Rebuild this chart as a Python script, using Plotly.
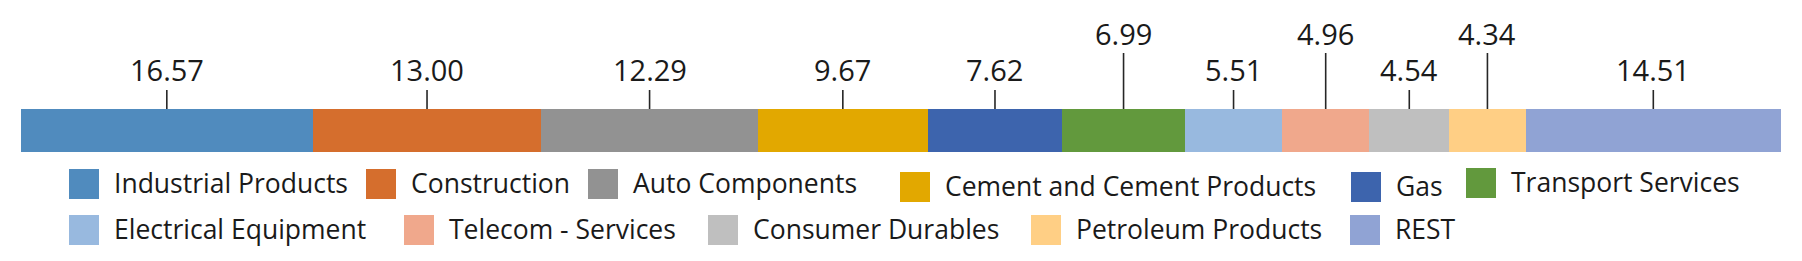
import plotly.graph_objects as go

# ---- data ----
categories = ["Industrial Products", "Construction", "Auto Components",
              "Cement and Cement Products", "Gas", "Transport Services",
              "Electrical Equipment", "Telecom - Services", "Consumer Durables",
              "Petroleum Products", "REST"]
values = [16.57, 13.00, 12.29, 9.67, 7.62, 6.99, 5.51, 4.96, 4.54, 4.34, 14.51]
labels = ["16.57", "13.00", "12.29", "9.67", "7.62", "6.99", "5.51", "4.96", "4.54", "4.34", "14.51"]

# ---- styles / layout ----
colors = ["#508BBE", "#D56E2D", "#929292", "#E2A800", "#3D64AD", "#62993D",
          "#98B9DF", "#F0A88C", "#BFBFBF", "#FFCF85", "#90A3D4"]
label_high = [False, False, False, False, False, True, False, True, False, True, False]
# legend placement (pixels)
leg_box_x = [69, 366, 588, 900, 1351, 1466, 69, 404, 708, 1031, 1350]
leg_box_top = [169, 169, 169, 172, 172, 168, 215, 215, 215, 215, 215]

W, H = 1802, 261
ML, MR = 21, 21
FONT = "Open Sans"
TXT = "#1a1a1a"

fig = go.Figure()
for c, v, col in zip(categories, values, colors):
    fig.add_trace(go.Bar(x=[v], y=[0], orientation="h", name=c, width=1,
                         marker=dict(color=col, line=dict(width=0)),
                         showlegend=False, hoverinfo="name+x"))

# y mapping: bar spans y in [-0.5,0.5] -> pixels 109..152
px_per_unit = 43.0
center_px = 130.5
def ydata(py):
    return (center_px - py) / px_per_unit

yr = [ydata(H), ydata(0)]

shapes = []
annotations = []
cum = 0.0
for v, lab, hi in zip(values, labels, label_high):
    mid = cum + v / 2
    cum += v
    top = ydata(53) if hi else ydata(90)
    ty = ydata(33) if hi else ydata(69.5)
    shapes.append(dict(type="line", xref="x", yref="y", x0=mid, x1=mid,
                       y0=0.5, y1=top, line=dict(color="#262626", width=1.6)))
    annotations.append(dict(x=mid, y=ty, xref="x", yref="y", text=lab,
                            showarrow=False, xanchor="center", yanchor="middle",
                            font=dict(family=FONT, size=29, color=TXT)))

def xp(px):
    return (px - ML) / (W - ML - MR)

def yp(py):
    return 1 - py / H

BOX = 30
for name, col, bx, bt in zip(categories, colors, leg_box_x, leg_box_top):
    shapes.append(dict(type="rect", xref="paper", yref="paper",
                       x0=xp(bx), x1=xp(bx + BOX), y0=yp(bt + BOX), y1=yp(bt),
                       fillcolor=col, line=dict(width=0)))
    annotations.append(dict(x=xp(bx + BOX + 13), y=yp(bt + BOX / 2 - 1.5),
                            xref="paper", yref="paper", text=name,
                            showarrow=False, xanchor="left", yanchor="middle",
                            font=dict(family=FONT, size=26.5, color=TXT)))

fig.update_layout(
    width=W, height=H, barmode="stack",
    margin=dict(l=ML, r=MR, t=0, b=0, pad=0),
    paper_bgcolor="white", plot_bgcolor="white",
    xaxis=dict(range=[0, sum(values)], visible=False, fixedrange=True),
    yaxis=dict(range=yr, visible=False, fixedrange=True),
    shapes=shapes, annotations=annotations, showlegend=False,
    bargap=0,
)

fig.write_html("out.html", config={"displayModeBar": False})
